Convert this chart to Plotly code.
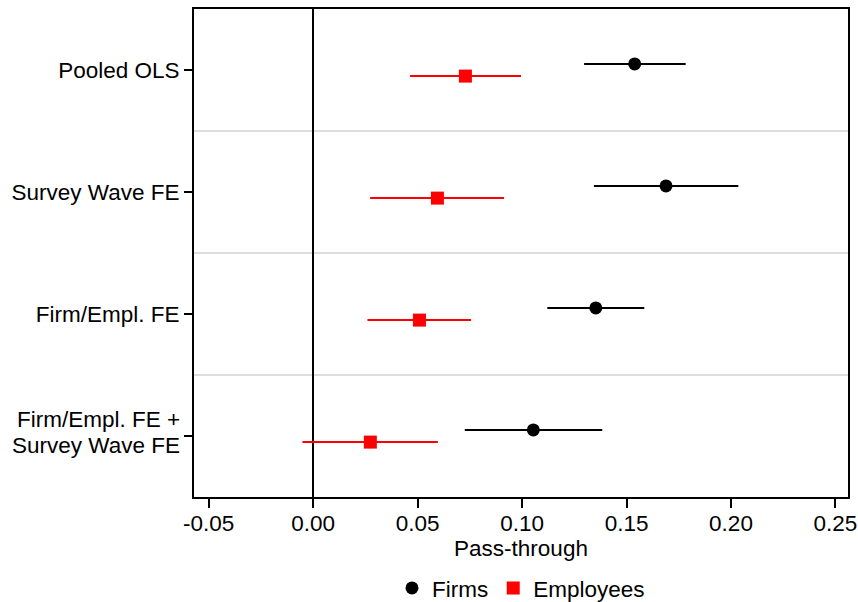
import plotly.graph_objects as go

specs = ["Pooled OLS", "Survey Wave FE", "Firm/Empl. FE", ""]
last_label = ["Firm/Empl. FE +", "Survey Wave FE"]
row = [1, 2, 3, 4]

firm_est = [0.1539, 0.1689, 0.1353, 0.1054]
firm_lo = [0.1297, 0.1344, 0.1121, 0.0726]
firm_hi = [0.1783, 0.2035, 0.1585, 0.1384]

emp_est = [0.0729, 0.0595, 0.0509, 0.0274]
emp_lo = [0.0464, 0.0273, 0.0260, -0.0051]
emp_hi = [0.0995, 0.0914, 0.0756, 0.0597]

offset = 0.05
FONT = "Liberation Sans, Arial, sans-serif"
FS = 22.5

fig = go.Figure()
fig.add_trace(go.Scatter(
    x=firm_est, y=[r - offset for r in row], mode="markers", name="Firms",
    marker=dict(symbol="circle", size=13, color="black"),
    error_x=dict(type="data", symmetric=False,
                 array=[h - e for h, e in zip(firm_hi, firm_est)],
                 arrayminus=[e - l for e, l in zip(firm_est, firm_lo)],
                 color="black", thickness=2, width=0),
))
fig.add_trace(go.Scatter(
    x=emp_est, y=[r + offset for r in row], mode="markers", name="Employees",
    marker=dict(symbol="square", size=13, color="#ff0000"),
    error_x=dict(type="data", symmetric=False,
                 array=[h - e for h, e in zip(emp_hi, emp_est)],
                 arrayminus=[e - l for e, l in zip(emp_est, emp_lo)],
                 color="#ff0000", thickness=2, width=0),
))

# two-line label for the last row, with tight line spacing
for txt, shift in zip(last_label, [17, -9]):
    fig.add_annotation(x=0, xref="paper", y=row[3], yref="y", text=txt,
                       showarrow=False, xanchor="right", yanchor="middle",
                       xshift=-13, yshift=shift, borderpad=0,
                       font=dict(size=FS, family=FONT, color="black"))

fig.update_layout(
    width=858, height=602,
    margin=dict(l=194, r=10, t=9, b=105, autoexpand=False),
    paper_bgcolor="white", plot_bgcolor="white",
    font=dict(family=FONT, size=FS, color="black"),
    showlegend=True,
    legend=dict(orientation="h", x=0.5, xanchor="center", y=-0.187, yanchor="middle",
                font=dict(size=FS), itemwidth=30, tracegroupgap=0),
)
fig.update_xaxes(
    range=[-0.057, 0.256], tickvals=[-0.05, 0, 0.05, 0.10, 0.15, 0.20, 0.25],
    ticktext=["-0.05", "0.00", "0.05", "0.10", "0.15", "0.20", "0.25"],
    ticks="outside", ticklen=9, tickwidth=1.5, tickcolor="black",
    ticklabelstandoff=-4,
    showline=True, linecolor="black", linewidth=2, mirror=True,
    showgrid=False, zeroline=True, zerolinecolor="black", zerolinewidth=2,
    title=dict(text="Pass-through", standoff=0, font=dict(size=FS)),
    tickfont=dict(size=FS), automargin=False,
)
fig.update_yaxes(
    range=[4.5, 0.5], tickvals=row, ticktext=specs,
    ticks="outside", ticklen=8, tickwidth=1.5, tickcolor="black",
    showline=True, linecolor="black", linewidth=2, mirror=True,
    showgrid=False, zeroline=False, tickfont=dict(size=FS), automargin=False,
    minor=dict(tickvals=[1.5, 2.5, 3.5], showgrid=True, gridcolor="#dcdcdc",
               gridwidth=2, ticks=""),
)

fig.write_html("out.html")
